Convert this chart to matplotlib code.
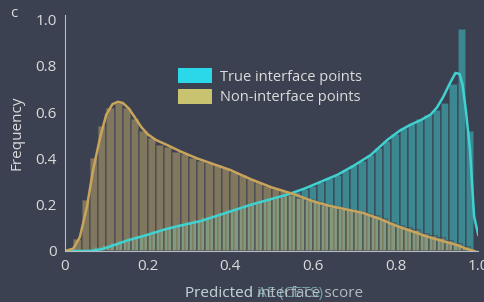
import matplotlib
matplotlib.use("Agg")
import matplotlib.pyplot as plt
from matplotlib.patches import Patch

plt.rcParams['font.family'] = ['Open Sans', 'DejaVu Sans']

bg = '#3b4150'
fg = '#dcdcdc'

# histogram bars (bin centres, heights)
non_centers = [0.01 + 0.02 * i for i in range(50)]
non_heights = [0.005, 0.05, 0.22, 0.40, 0.54, 0.62, 0.64, 0.62, 0.57, 0.52,
               0.49, 0.46, 0.45, 0.43, 0.42, 0.40, 0.39, 0.38, 0.37, 0.36,
               0.34, 0.33, 0.31, 0.30, 0.28, 0.27, 0.26, 0.24, 0.23, 0.22,
               0.21, 0.20, 0.19, 0.18, 0.175, 0.17, 0.16, 0.15, 0.14, 0.12,
               0.11, 0.10, 0.09, 0.075, 0.065, 0.055, 0.045, 0.03, 0.015, 0.005]

true_centers = [0.02 + 0.02 * i for i in range(49)]
true_heights = [0.0, 0.0, 0.005, 0.015, 0.025, 0.035, 0.045, 0.055, 0.065, 0.075,
                0.085, 0.095, 0.105, 0.115, 0.125, 0.135, 0.145, 0.155, 0.165, 0.175,
                0.185, 0.195, 0.205, 0.215, 0.225, 0.235, 0.245, 0.255, 0.27, 0.28,
                0.30, 0.315, 0.33, 0.35, 0.37, 0.39, 0.415, 0.445, 0.475, 0.505,
                0.53, 0.55, 0.57, 0.59, 0.61, 0.64, 0.72, 0.96, 0.52]

# density curves
non_kde_x = [0, 0.02, 0.036, 0.053, 0.068, 0.085, 0.10, 0.115, 0.128, 0.14, 0.155,
             0.17, 0.185, 0.20, 0.22, 0.245, 0.28, 0.32, 0.36, 0.40, 0.45, 0.50,
             0.555, 0.60, 0.64, 0.68, 0.72, 0.76, 0.80, 0.84, 0.88, 0.92, 0.95,
             0.97, 0.99]
non_kde_y = [0, 0.01, 0.06, 0.19, 0.35, 0.49, 0.59, 0.635, 0.645, 0.64, 0.615,
             0.575, 0.535, 0.505, 0.48, 0.46, 0.43, 0.40, 0.375, 0.35, 0.31, 0.275,
             0.245, 0.215, 0.195, 0.18, 0.165, 0.14, 0.11, 0.085, 0.06, 0.04, 0.025,
             0.01, 0.0]

true_kde_x = [0.0, 0.06, 0.09, 0.11, 0.15, 0.20, 0.245, 0.28, 0.33, 0.39, 0.45, 0.50,
              0.54, 0.58, 0.62, 0.66, 0.70, 0.74, 0.78, 0.81, 0.835, 0.86, 0.885,
              0.90, 0.915, 0.93, 0.945, 0.955, 0.962, 0.97, 0.98, 0.99, 1.0]
true_kde_y = [0.0, 0.0, 0.008, 0.02, 0.045, 0.07, 0.095, 0.11, 0.13, 0.165, 0.20, 0.225,
              0.245, 0.27, 0.30, 0.33, 0.37, 0.415, 0.48, 0.52, 0.545, 0.565, 0.59,
              0.62, 0.665, 0.72, 0.77, 0.765, 0.72, 0.61, 0.44, 0.15, 0.07]

fig = plt.figure(figsize=(4.85, 3.02), dpi=100, facecolor=bg)
ax = fig.add_axes([0.134, 0.169, 0.852, 0.781], facecolor=bg)

ax.bar(true_centers, true_heights, width=0.02, color='#3fb6bc', alpha=0.6,
       edgecolor=bg, linewidth=1.3)
ax.bar(non_centers, non_heights, width=0.02, color='#c8ab6c', alpha=0.5,
       edgecolor=bg, linewidth=1.3)
ax.plot(true_kde_x, true_kde_y, color='#40d2d0', lw=1.8)
ax.plot(non_kde_x, non_kde_y, color='#c9a55c', lw=1.8)

ax.set_xlim(0, 1)
ax.set_ylim(0, 1.02)
ax.set_xticks([0, 0.2, 0.4, 0.6, 0.8, 1.0])
ax.set_xticklabels(['0', '0.2', '0.4', '0.6', '0.8', '1.0'])
ax.set_yticks([0, 0.2, 0.4, 0.6, 0.8, 1.0])
ax.set_yticklabels(['0', '0.2', '0.4', '0.6', '0.8', '1.0'])
ax.tick_params(length=0, colors=fg, labelsize=11, pad=6)
for s in ['top', 'right']:
    ax.spines[s].set_visible(False)
ax.spines['left'].set_color('#b8bcc4')
ax.spines['bottom'].set_color('#b8bcc4')
ax.spines['left'].set_linewidth(0.8)
ax.spines['bottom'].set_linewidth(0.8)

ax.set_ylabel('Frequency', color=fg, fontsize=11, labelpad=8)
# two overlapping axis titles, as in the original
ax.text(0.29, -0.18, 'Predicted AE (CETS)', transform=ax.transAxes,
        ha='left', va='center', color='#7fb8bb', fontsize=11, alpha=0.8)
ax.text(0.29, -0.18, 'Predicted interface score', transform=ax.transAxes,
        ha='left', va='center', color='#c9d0d4', fontsize=11, alpha=0.85)

fig.text(0.02, 0.945, 'c', color=fg, fontsize=11)

handles = [Patch(facecolor='#2ad8ea', edgecolor='none'),
           Patch(facecolor='#c9c26f', edgecolor='none')]
ax.legend(handles, ['True interface points', 'Non-interface points'],
          loc='upper left', bbox_to_anchor=(0.274, 0.775), frameon=False,
          fontsize=10.5, labelcolor=fg, handlelength=2.3, handleheight=1.2,
          handletextpad=0.55, borderpad=0, borderaxespad=0, labelspacing=0.3)

fig.savefig('out.png', dpi=100, facecolor=bg)
